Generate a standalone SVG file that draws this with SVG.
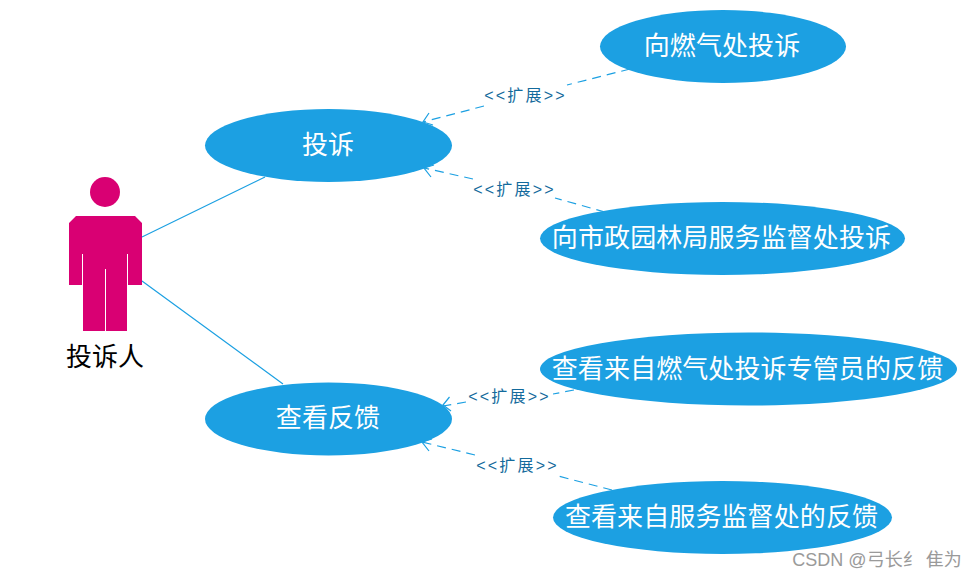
<svg xmlns="http://www.w3.org/2000/svg" width="977" height="578" viewBox="0 0 977 578">
<style>
text{font-family:"Liberation Sans","Noto Sans CJK SC",sans-serif;text-anchor:middle}
.uc ellipse{fill:#1ca0e2}
.uc text{fill:#fff;font-size:26px;letter-spacing:.1px}
.rel{stroke:#1ca0e2;stroke-width:1.200;fill:none}
.dash{stroke-dasharray:9 6}
.lbl{fill:#136a9c;font-size:16px;letter-spacing:2.200px}
</style>
<rect width="977" height="578" fill="#fff"/>
<g id="connectors">
<path class="rel" d="M142 237L265 177M142 281L283 384"/>
<path class="rel dash" d="M630 69L567 85M484 106L423 122"/>
<path class="rel" d="M429 113L423 122L433 125"/>
<path class="rel dash" d="M605 212L555 198M473 179L424 168"/>
<path class="rel" d="M431 177L424 168L434 165"/>
<path class="rel dash" d="M574 390L553 394M466 402L443 406"/>
<path class="rel" d="M449.500 397L443 405L451 411"/>
<path class="rel dash" d="M612 490L558 476M475 455L422 442"/>
<path class="rel" d="M429 451L422 442L432 439"/>
<text class="lbl" x="525.500" y="101">&lt;&lt;扩展&gt;&gt;</text>
<text class="lbl" x="514.500" y="195">&lt;&lt;扩展&gt;&gt;</text>
<text class="lbl" x="509.500" y="402">&lt;&lt;扩展&gt;&gt;</text>
<text class="lbl" x="517.500" y="471">&lt;&lt;扩展&gt;&gt;</text>
</g>
<g id="actor">
<circle cx="105" cy="192" r="15" fill="#d90073"/>
<path fill="#d90073" d="M76 216H135L142 223V285H128V254H127V331H106V269H105V331H83V254H82V285H69V223Z"/>
<text x="105" y="366" font-size="26" fill="#000">投诉人</text>
</g>
<g id="uc1" class="uc"><ellipse cx="328.500" cy="145.500" rx="123.500" ry="36.500"/><text x="328" y="154">投诉</text></g>
<g id="uc2" class="uc"><ellipse cx="723" cy="46.500" rx="123" ry="36.500"/><text x="722" y="55">向燃气处投诉</text></g>
<g id="uc3" class="uc"><ellipse cx="722.500" cy="238.500" rx="182.500" ry="36.500"/><text x="721.500" y="247">向市政园林局服务监督处投诉</text></g>
<g id="uc4" class="uc"><ellipse cx="328.500" cy="419" rx="123.500" ry="36.500"/><text x="328" y="427">查看反馈</text></g>
<g id="uc5" class="uc"><ellipse cx="748.500" cy="369" rx="208.500" ry="36.500"/><text x="747.500" y="378">查看来自燃气处投诉专管员的反馈</text></g>
<g id="uc6" class="uc"><ellipse cx="722.500" cy="517.500" rx="169.500" ry="36.500"/><text x="721.500" y="526">查看来自服务监督处的反馈</text></g>
<text x="877" y="566" font-size="18" fill="#9a9a9a">CSDN @弓长纟 隹为</text>
</svg>
